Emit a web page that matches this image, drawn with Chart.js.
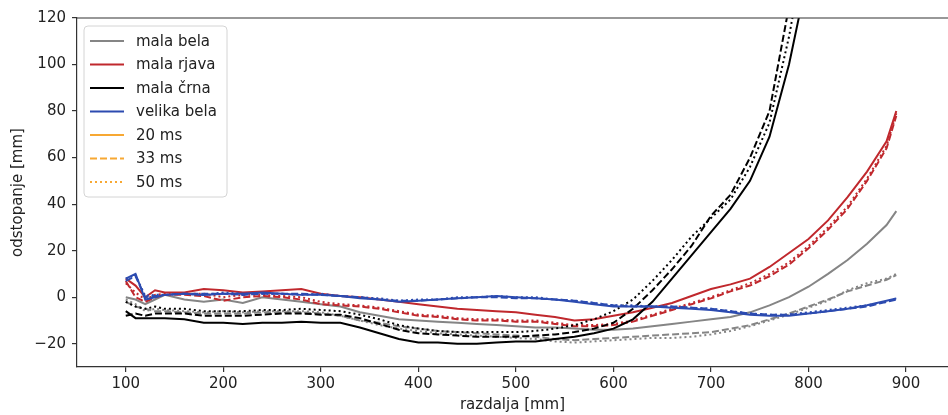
<!DOCTYPE html>
<html><head><meta charset="utf-8">
<script src="https://cdn.jsdelivr.net/npm/chart.js@4.4.1/dist/chart.umd.min.js"></script>
<style>html,body{margin:0;padding:0;background:#fff;overflow:hidden}canvas{display:block}</style>
</head><body>
<canvas id="c" width="948" height="415"></canvas>
<script>
// ---------- data ----------
const xVals = [100,110,120,130,140,160,180,200,220,240,260,280,300,320,340,360,380,400,420,440,460,480,500,520,540,560,580,600,620,640,660,680,700,720,740,760,780,800,820,840,860,880,890];
const xTicks = [100,200,300,400,500,600,700,800,900];
const yTicks = [-20,0,20,40,60,80,100,120];
const objectNames = ['mala bela','mala rjava','mala črna','velika bela'];
const timeNames = ['20 ms','33 ms','50 ms'];

const malaBela20 = [0,-1,-3,-1,1,-1,-2,-1,-2.5,0,-1,-2,-3,-4,-6.5,-8,-9.5,-10,-10.5,-11,-11.5,-12,-12.5,-13,-13,-13.5,-14,-14,-13.5,-12.5,-11.5,-10.5,-9.5,-8.5,-6.5,-3.5,0,4.5,10,16,23,31,37];
const malaBela33 = [-2,-4,-5,-6,-6,-6.5,-7,-7,-7,-6.5,-6.5,-6.5,-7,-8,-10,-11,-12.5,-13.5,-14.5,-15,-15.5,-16,-16.5,-17,-18,-18.5,-18,-17.5,-17,-16.5,-16,-15.5,-15,-13.5,-12,-9.5,-7,-4,-1,2.5,5,7.5,9.5];
const malaBela50 = [-1,-3,-6,-5,-5.5,-6,-6.5,-6,-6.5,-6,-6,-6,-6.5,-8,-10,-12,-13.5,-14.5,-15.5,-16,-16.5,-17,-17.5,-18,-19,-19.5,-19,-18.5,-18,-17.5,-17.5,-17,-16,-14.5,-12.5,-10,-7.5,-4.5,-1.5,3,6,8,10];

const malaRjava20 = [8,5,0,3,2,2,3.5,3,2,2.5,3,3.5,1.5,0.5,0,-1,-2,-3,-4,-5,-5.5,-6,-6.5,-7.5,-8.5,-10,-9.5,-8,-6.5,-4.5,-2.5,0.5,3.5,5.5,8,13,19,25,33,43,54,67,80];
const malaRjava33 = [7,0,-2,0,1,1,0.5,-1.5,0,0.5,0,-1,-3,-3.5,-4,-5,-6.5,-8,-8.5,-9.5,-10,-10,-10.5,-10.5,-11.5,-12.5,-12.5,-12,-10.5,-8,-5.5,-3,-0.5,2.5,5,9,14,21,29,38,50,64,78];
const malaRjava50 = [6,2,-1,1,1.5,1.5,1.5,0,1,1,0.5,0,-2,-3,-3.5,-4.5,-6,-7.5,-8,-9,-9.5,-9.5,-10,-10,-11,-12,-12,-11.5,-10,-7.5,-5,-2.5,0,3,6,10,15,22,30,39,51,65,79];

const malaCrna20 = [-6,-9,-9,-9,-9,-9.5,-11,-11,-11.5,-11,-11,-10.5,-11,-11,-13,-15.5,-18,-19.5,-19.5,-20,-20,-19.5,-19,-19,-18,-17,-15.5,-13.5,-9.5,-2,8,18,28,38,50,69,100,140,185];
const malaCrna33 = [-8,-7,-8,-7,-7,-7,-8,-8,-8,-7.5,-7,-7,-7.5,-7.5,-9,-11.5,-14,-15.5,-16,-16.5,-17,-17,-17,-16.5,-16,-15,-13.5,-11,-5,3,12,22,35,44,60,80,125,175,230];
const malaCrna50 = [-2,-4,-5,-4,-5,-5,-6,-6,-6,-5.5,-5.5,-5,-5.5,-6,-7.5,-9.5,-12,-13.5,-14.5,-15,-15,-15,-15,-14.5,-13.5,-12,-9.5,-6,-1,7,16,26,34,42,56,75,112,158,210];

const velikaBela20 = [8,10,-1,0,1,1.5,1,1.5,1.5,2,1.5,1,1,0.5,-0.5,-1,-2,-1.5,-1,-0.5,0,0.5,0,-0.5,-1,-2,-3,-4,-4,-4,-4.5,-5,-5.5,-6.5,-7.5,-8,-8,-7,-6,-5,-3.5,-1.5,-0.5];
const velikaBela33 = [7,9,0,0.5,1,1.5,1.5,1.5,1,1.5,1.5,1.5,1,0.5,0,-1,-1.5,-1.5,-1,-0.5,0,0,-0.5,-0.5,-1,-1.5,-2.5,-3.5,-4,-4,-4,-4.5,-5,-6,-7,-7.5,-7.5,-7,-6,-5,-4,-2,-1];
const velikaBela50 = [8,9.5,0.5,1,1,1.5,1,2,1.5,1.5,1.5,1,1.5,0.5,0,-0.5,-1.5,-1,-1,0,0,0.5,0,0,-1,-1.5,-2.5,-3.5,-3.5,-4,-4,-4.5,-5,-6,-7,-7.5,-7.5,-6.5,-5.5,-4.5,-3.5,-2,-0.5];

const seriesValues = [
  [malaBela20, malaBela33, malaBela50],
  [malaRjava20, malaRjava33, malaRjava50],
  [malaCrna20, malaCrna33, malaCrna50],
  [velikaBela20, velikaBela33, velikaBela50]
];

// ---------- styles ----------
const objectColors = ['#858585', '#c0282d', '#000000', '#2c4bb0'];
const objectOrder = [3, 2, 1, 0];
const timeDash = [[], [7, 3], [2, 3]];
const legendTimeColor = '#f7a833';
const FONT = 'DejaVu Sans';

const datasets = [];
seriesValues.forEach((group, o) => {
  group.forEach((vals, t) => {
    datasets.push({
      label: objectNames[o] + ' ' + timeNames[t],
      data: vals.map((y, i) => ({ x: xVals[i], y })),
      borderColor: objectColors[o],
      borderWidth: 2,
      borderDash: timeDash[t],
      pointRadius: 0,
      tension: 0,
      fill: false,
      order: objectOrder[o]
    });
  });
});

const framePlugin = {
  id: 'frame',
  afterDraw(chart) {
    const { ctx, chartArea: a } = chart;
    ctx.save();
    ctx.strokeStyle = '#333';
    ctx.lineWidth = 1.2;
    ctx.beginPath();
    ctx.moveTo(a.left, a.top);
    ctx.lineTo(a.right, a.top);
    ctx.stroke();

    // legend
    const bx = a.left + 7, by = a.top + 8, bw = 143, bh = 171, r = 4;
    ctx.fillStyle = 'rgba(255,255,255,0.85)';
    ctx.strokeStyle = '#d4d4d4';
    ctx.lineWidth = 1;
    ctx.beginPath();
    ctx.moveTo(bx + r, by);
    ctx.lineTo(bx + bw - r, by);
    ctx.quadraticCurveTo(bx + bw, by, bx + bw, by + r);
    ctx.lineTo(bx + bw, by + bh - r);
    ctx.quadraticCurveTo(bx + bw, by + bh, bx + bw - r, by + bh);
    ctx.lineTo(bx + r, by + bh);
    ctx.quadraticCurveTo(bx, by + bh, bx, by + bh - r);
    ctx.lineTo(bx, by + r);
    ctx.quadraticCurveTo(bx, by, bx + r, by);
    ctx.closePath();
    ctx.fill();
    ctx.stroke();

    const items = [];
    objectNames.forEach((n, o) => items.push({ text: n, color: objectColors[o], dash: [] }));
    timeNames.forEach((n, t) => items.push({ text: n, color: legendTimeColor, dash: timeDash[t] }));
    ctx.font = '15px "' + FONT + '"';
    ctx.textBaseline = 'middle';
    ctx.textAlign = 'left';
    items.forEach((it, i) => {
      const y = by + 15 + i * 23.5;
      ctx.strokeStyle = it.color;
      ctx.lineWidth = 2;
      ctx.setLineDash(it.dash);
      ctx.beginPath();
      ctx.moveTo(bx + 6, y);
      ctx.lineTo(bx + 40, y);
      ctx.stroke();
      ctx.setLineDash([]);
      ctx.fillStyle = '#222';
      ctx.fillText(it.text, bx + 52, y + 1);
    });
    ctx.restore();
  }
};

new Chart(document.getElementById('c'), {
  type: 'line',
  data: { datasets },
  options: {
    responsive: false,
    devicePixelRatio: 1,
    animation: false,
    layout: { padding: { top: 18, right: 0, left: 0, bottom: 0 } },
    plugins: { legend: { display: false }, tooltip: { enabled: false } },
    scales: {
      x: {
        type: 'linear',
        min: 50,
        max: 943,
        afterBuildTicks: s => { s.ticks = xTicks.map(v => ({ value: v })); },
        afterFit: s => { s.height = 48; },
        grid: { drawOnChartArea: false, drawTicks: true, tickLength: 5, color: '#333', lineWidth: 1.2 },
        border: { display: true, color: '#333', width: 1.2 },
        ticks: { color: '#222', font: { family: FONT, size: 15 }, padding: 3, maxRotation: 0, autoSkip: false },
        title: { display: true, text: 'razdalja [mm]', color: '#222', font: { family: FONT, size: 15 }, padding: { top: 0, bottom: 1 } }
      },
      y: {
        type: 'linear',
        min: -30,
        max: 120,
        afterBuildTicks: s => { s.ticks = yTicks.map(v => ({ value: v })); },
        afterFit: s => { s.width = 77; },
        grid: { drawOnChartArea: false, drawTicks: true, tickLength: 5, color: '#333', lineWidth: 1.2 },
        border: { display: true, color: '#333', width: 1.2 },
        ticks: { color: '#222', font: { family: FONT, size: 15 }, padding: 6, autoSkip: false,
          callback: v => (v < 0 ? '\u2212' + Math.abs(v) : String(v)) },
        title: { display: true, text: 'odstopanje [mm]', color: '#222', font: { family: FONT, size: 15 }, padding: { top: 9, bottom: 0 } }
      }
    }
  },
  plugins: [framePlugin]
});
</script>
</body></html>
